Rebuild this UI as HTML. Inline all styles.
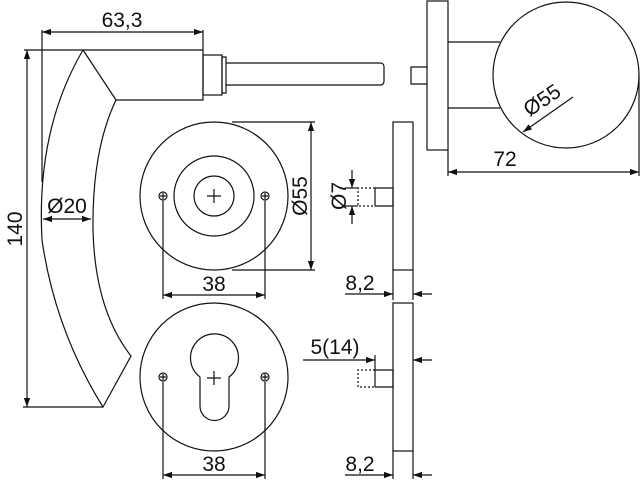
<!DOCTYPE html>
<html><head><meta charset="utf-8"><style>
html,body{margin:0;padding:0;background:#fff;}
svg{display:block;}
text{font-family:"Liberation Sans",sans-serif;font-size:21px;fill:#111;}
</style></head><body>
<svg width="640" height="480" viewBox="0 0 640 480" xmlns="http://www.w3.org/2000/svg">
<defs>
<marker id="a" viewBox="0 0 10 10" refX="10" refY="5" markerWidth="9" markerHeight="9" markerUnits="userSpaceOnUse" orient="auto-start-reverse"><path d="M0,1.5 L10,5 L0,8.5 Z" fill="#111"/></marker>
</defs>
<g fill="none" stroke="#111" stroke-width="1.2">
<line x1="42" y1="30" x2="42" y2="182"/>
<line x1="203" y1="30" x2="203" y2="50"/>
<line x1="42" y1="32" x2="203" y2="32" marker-start="url(#a)" marker-end="url(#a)"/>
<line x1="24" y1="50" x2="203" y2="50"/>
<line x1="27" y1="50" x2="27" y2="407" marker-start="url(#a)" marker-end="url(#a)"/>
<line x1="23" y1="407" x2="103" y2="407"/>
<path d="M83,50 L116,100 L203,100 L203,50"/>
<path d="M83,50 Q36,130 42,240 Q55,330 103,407 L131,356 Q95,310 93,230 Q92,150 116,100"/>
<rect x="203" y="55" width="19" height="40"/>
<rect x="222" y="57" width="4" height="36"/>
<path d="M226,63 L380,63 Q384,63 384,67 L384,81 Q384,85 380,85 L226,85"/>
<line x1="43" y1="219" x2="91" y2="219" marker-start="url(#a)" marker-end="url(#a)"/>
<circle cx="214" cy="196" r="74"/>
<circle cx="214" cy="196" r="40"/>
<circle cx="214" cy="196" r="20"/>
<path d="M207,196h14M214,189v14"/>
<circle cx="163" cy="196" r="4"/><path d="M160,196h6M163,193v6"/>
<circle cx="265" cy="196" r="4"/><path d="M262,196h6M265,193v6"/>
<line x1="163" y1="201" x2="163" y2="299"/>
<line x1="265" y1="201" x2="265" y2="299"/>
<line x1="163" y1="295" x2="265" y2="295" marker-start="url(#a)" marker-end="url(#a)"/>
<line x1="232" y1="122" x2="315" y2="122"/>
<line x1="232" y1="270" x2="315" y2="270"/>
<line x1="311" y1="122" x2="311" y2="270" marker-start="url(#a)" marker-end="url(#a)"/>
<rect x="393" y="122" width="20" height="148"/>
<path d="M375,188h18v18h-18"/>
<path d="M375,188h-17v18h17" stroke-dasharray="2,2"/>
<line x1="375" y1="188" x2="375" y2="206"/>
<line x1="352" y1="170" x2="352" y2="188" marker-end="url(#a)"/>
<line x1="352" y1="224" x2="352" y2="206" marker-end="url(#a)"/>
<line x1="345" y1="188" x2="358" y2="188"/>
<line x1="345" y1="206" x2="358" y2="206"/>
<line x1="393" y1="270" x2="393" y2="300"/>
<line x1="413" y1="270" x2="413" y2="300"/>
<line x1="345" y1="294" x2="393" y2="294" marker-end="url(#a)"/>
<line x1="432" y1="294" x2="413" y2="294" marker-end="url(#a)"/>
<circle cx="214" cy="377" r="74"/>
<path d="M200,377 A24,24 0 1 1 229,377 L229,406 A14.5,14.5 0 0 1 200,406 Z"/>
<path d="M207,378h14M214,371v14"/>
<circle cx="163" cy="377" r="4"/><path d="M160,377h6M163,374v6"/>
<circle cx="265" cy="377" r="4"/><path d="M262,377h6M265,374v6"/>
<line x1="163" y1="382" x2="163" y2="479"/>
<line x1="265" y1="382" x2="265" y2="479"/>
<line x1="163" y1="475" x2="265" y2="475" marker-start="url(#a)" marker-end="url(#a)"/>
<rect x="393" y="303" width="20" height="148"/>
<path d="M375,370h18v17h-18"/>
<path d="M375,370h-17v17h17" stroke-dasharray="2,2"/>
<line x1="375" y1="355" x2="375" y2="387"/>
<line x1="303" y1="360" x2="375" y2="360" marker-end="url(#a)"/>
<line x1="432" y1="360" x2="413" y2="360" marker-end="url(#a)"/>
<line x1="393" y1="451" x2="393" y2="479"/>
<line x1="413" y1="451" x2="413" y2="479"/>
<line x1="345" y1="475" x2="393" y2="475" marker-end="url(#a)"/>
<line x1="432" y1="475" x2="413" y2="475" marker-end="url(#a)"/>
<rect x="427" y="1" width="21" height="149"/>
<path d="M448,42h52M448,108h52"/>
<circle cx="566" cy="75" r="73"/>
<path d="M427,67h-16v17h16"/>
<line x1="448" y1="150" x2="448" y2="176"/>
<line x1="639" y1="75" x2="639" y2="176"/>
<line x1="448" y1="172" x2="639" y2="172" marker-start="url(#a)" marker-end="url(#a)"/>
<line x1="573" y1="97" x2="523" y2="132" marker-end="url(#a)"/>
</g>
<text x="122" y="27" text-anchor="middle">63,3</text>
<text x="67" y="213" text-anchor="middle">Ø20</text>
<text transform="translate(22,229) rotate(-90)" text-anchor="middle">140</text>
<text transform="translate(307,196) rotate(-90)" text-anchor="middle">Ø55</text>
<text transform="translate(346,196) rotate(-90)" text-anchor="middle">Ø7</text>
<text x="214" y="291" text-anchor="middle">38</text>
<text x="360" y="290" text-anchor="middle">8,2</text>
<text x="335" y="354" text-anchor="middle">5(14)</text>
<text x="214" y="471" text-anchor="middle">38</text>
<text x="360" y="471" text-anchor="middle">8,2</text>
<text x="505" y="166" text-anchor="middle">72</text>
<text transform="translate(546,106) rotate(-34)" text-anchor="middle">Ø55</text>
</svg>
</body></html>
